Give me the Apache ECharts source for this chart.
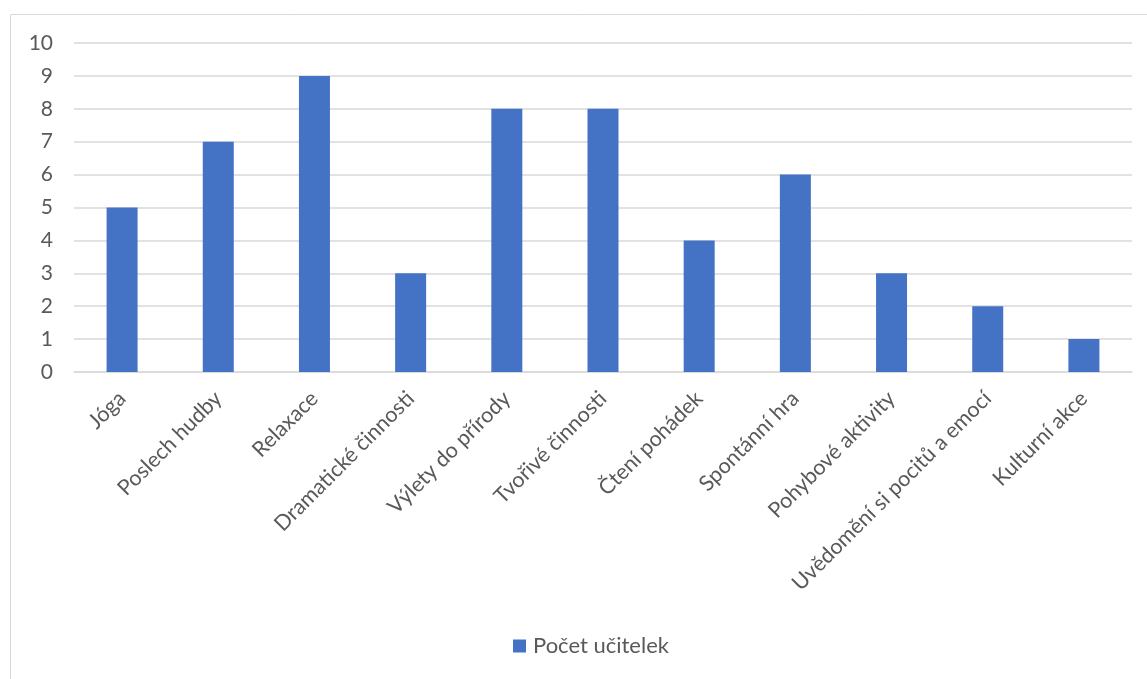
<!DOCTYPE html>
<html>
<head>
<meta charset="utf-8">
<script src="https://cdn.jsdelivr.net/npm/echarts@6/dist/echarts.min.js"></script>
<style>
  html, body { margin: 0; padding: 0; background: #ffffff; }
  #chart { width: 1147px; height: 679px; }
</style>
</head>
<body>
<div id="chart"></div>
<script>
// Activities and how many teachers chose each one
const categories = [
  'Jóga', 'Poslech hudby', 'Relaxace', 'Dramatické činnosti', 'Výlety do přírody',
  'Tvořivé činnosti', 'Čtení pohádek', 'Spontánní hra', 'Pohybové aktivity',
  'Uvědomění si pocitů a emocí', 'Kulturní akce'
];
const seriesName = 'Počet učitelek';
const values = [5, 7, 9, 3, 8, 8, 4, 6, 3, 2, 1];

const textColor = '#595959';
const fontFamily = 'Lato, "Open Sans", "DejaVu Sans", sans-serif';

const chart = echarts.init(document.getElementById('chart'), null, { renderer: 'canvas' });
chart.setOption({
  animation: false,
  backgroundColor: '#ffffff',
  graphic: [{
    type: 'rect',
    shape: { x: 10.5, y: 14.5, width: 1200, height: 700 },
    style: { fill: 'none', stroke: '#d9d9d9', lineWidth: 1 },
    silent: true,
    z: -1
  }],
  grid: { left: 74, right: 15, top: 43, bottom: 307, containLabel: false },
  legend: {
    data: [seriesName],
    top: 635,
    left: 513,
    padding: 0,
    itemWidth: 13,
    itemHeight: 13,
    itemGap: 8,
    icon: 'rect',
    textStyle: { color: textColor, fontSize: 22, fontFamily: fontFamily, padding: [0, 0, 0, 2] }
  },
  xAxis: {
    type: 'category',
    data: categories,
    axisLine: { show: true, lineStyle: { color: '#d9d9d9', width: 1.5 } },
    axisTick: { show: false },
    axisLabel: {
      rotate: 45,
      interval: 0,
      margin: 23,
      color: textColor,
      fontSize: 21.5,
      fontFamily: fontFamily
    }
  },
  yAxis: {
    type: 'value',
    min: 0,
    max: 10,
    interval: 1,
    axisLine: { show: false },
    axisTick: { show: false },
    axisLabel: { color: textColor, fontSize: 21, fontFamily: fontFamily, margin: 21 },
    splitLine: { lineStyle: { color: '#d9d9d9', width: 1.5 } }
  },
  series: [{
    name: seriesName,
    type: 'bar',
    data: values,
    barWidth: 31,
    itemStyle: { color: '#4472c4' }
  }]
});
</script>
</body>
</html>
